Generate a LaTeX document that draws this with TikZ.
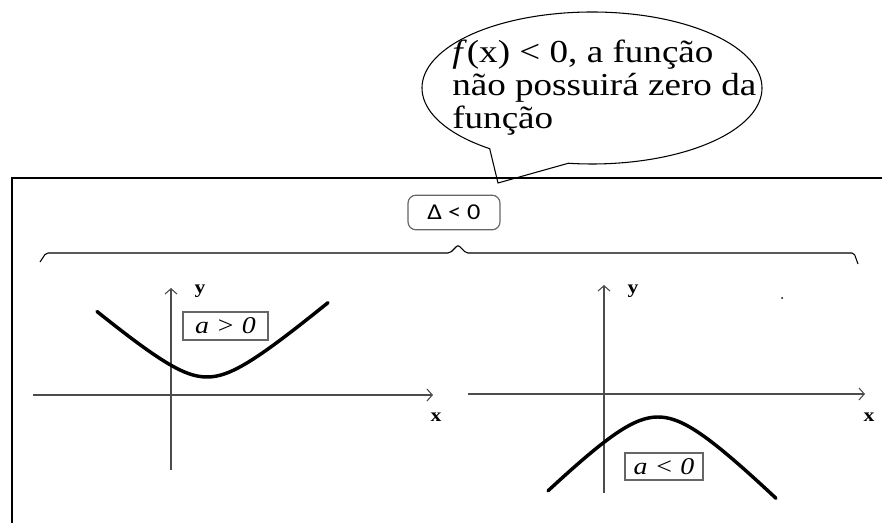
\documentclass[tikz,border=0pt]{standalone}
\usepackage{fontspec}
\setmainfont{Liberation Serif}[FakeStretch=1.16]
\newfontfamily\deltafont{Carlito}[FakeStretch=1.16]
\usetikzlibrary{arrows.meta}

\tikzset{
  axis/.style={draw=black!70, line width=0.8pt, -{Straight Barb[length=4pt,width=9pt]}},
  curve/.style={line width=2.6pt, line cap=round},
  signbox/.style={draw=black!60, line width=1.1pt, inner sep=0pt, font=\itshape\fontsize{18}{20}\selectfont},
  axislabel/.style={font=\bfseries\fontsize{14}{16}\selectfont},
  deltabox/.style={draw=black!60, line width=0.9pt, rounded corners=6pt, inner sep=0pt,
    minimum width=69pt, minimum height=26pt, font=\deltafont\fontsize{17}{20}\selectfont},
  bubbletext/.style={align=left, inner sep=0pt, font=\fontsize{24}{24.5}\selectfont},
}

\begin{document}
\begin{tikzpicture}[x=0.75pt,y=-0.75pt]
\useasboundingbox (0,0) rectangle (882,523);
% frame
\draw[line width=0.8pt] (12,523) -- (12,178) -- (882,178);
% callout
\coordinate (bubble) at (592,88);
\coordinate (tip) at (498,183);
\draw[line width=0.8pt] (bubble) ++(127:170 and 76)
  arc[start angle=127, end angle=458, x radius=170, y radius=76] -- (tip) -- cycle;
\node[bubbletext, anchor=north west] (note) at (452,40)
  {\textit{f}(x) < 0, a função\\não possuirá zero da\\função};
% delta and brace
\node[deltabox] (delta) at (454,212.5) {Δ < 0};
\draw[line width=0.8pt, rounded corners=1.5pt] (40,262) -- (46,253) -- (450,253)
  -- (458,245) -- (466,253) -- (854,253) -- (858,264);
%
\draw[axis] (33,395) -- (433,395);
\draw[axis] (171,470) -- (171,288);
\node[axislabel] (ly) at (200,291) {y};
\node[axislabel] (lx) at (436,417) {x};
\draw[curve] plot[domain=-110:121,samples=80] ({207+\x},{377-34*(sqrt(1+(\x/40)^2)-1)});
\node[signbox, minimum width=64pt, minimum height=21pt] (apos) at (225.5,326) {a > 0};
%
\draw[axis] (468,394) -- (865,394);
\draw[axis] (604,493) -- (604,285);
\node[axislabel] (ry) at (633,291) {y};
\node[axislabel] (rx) at (869,417) {x};
\draw[curve] plot[domain=-110:118,samples=80] ({658+\x},{417+45*(sqrt(1+(\x/45)^2)-1)});
\node[signbox, minimum width=58.5pt, minimum height=20pt] (aneg) at (664,466.5) {a < 0};
\fill (782,298) circle (1);
\end{tikzpicture}
\end{document}
